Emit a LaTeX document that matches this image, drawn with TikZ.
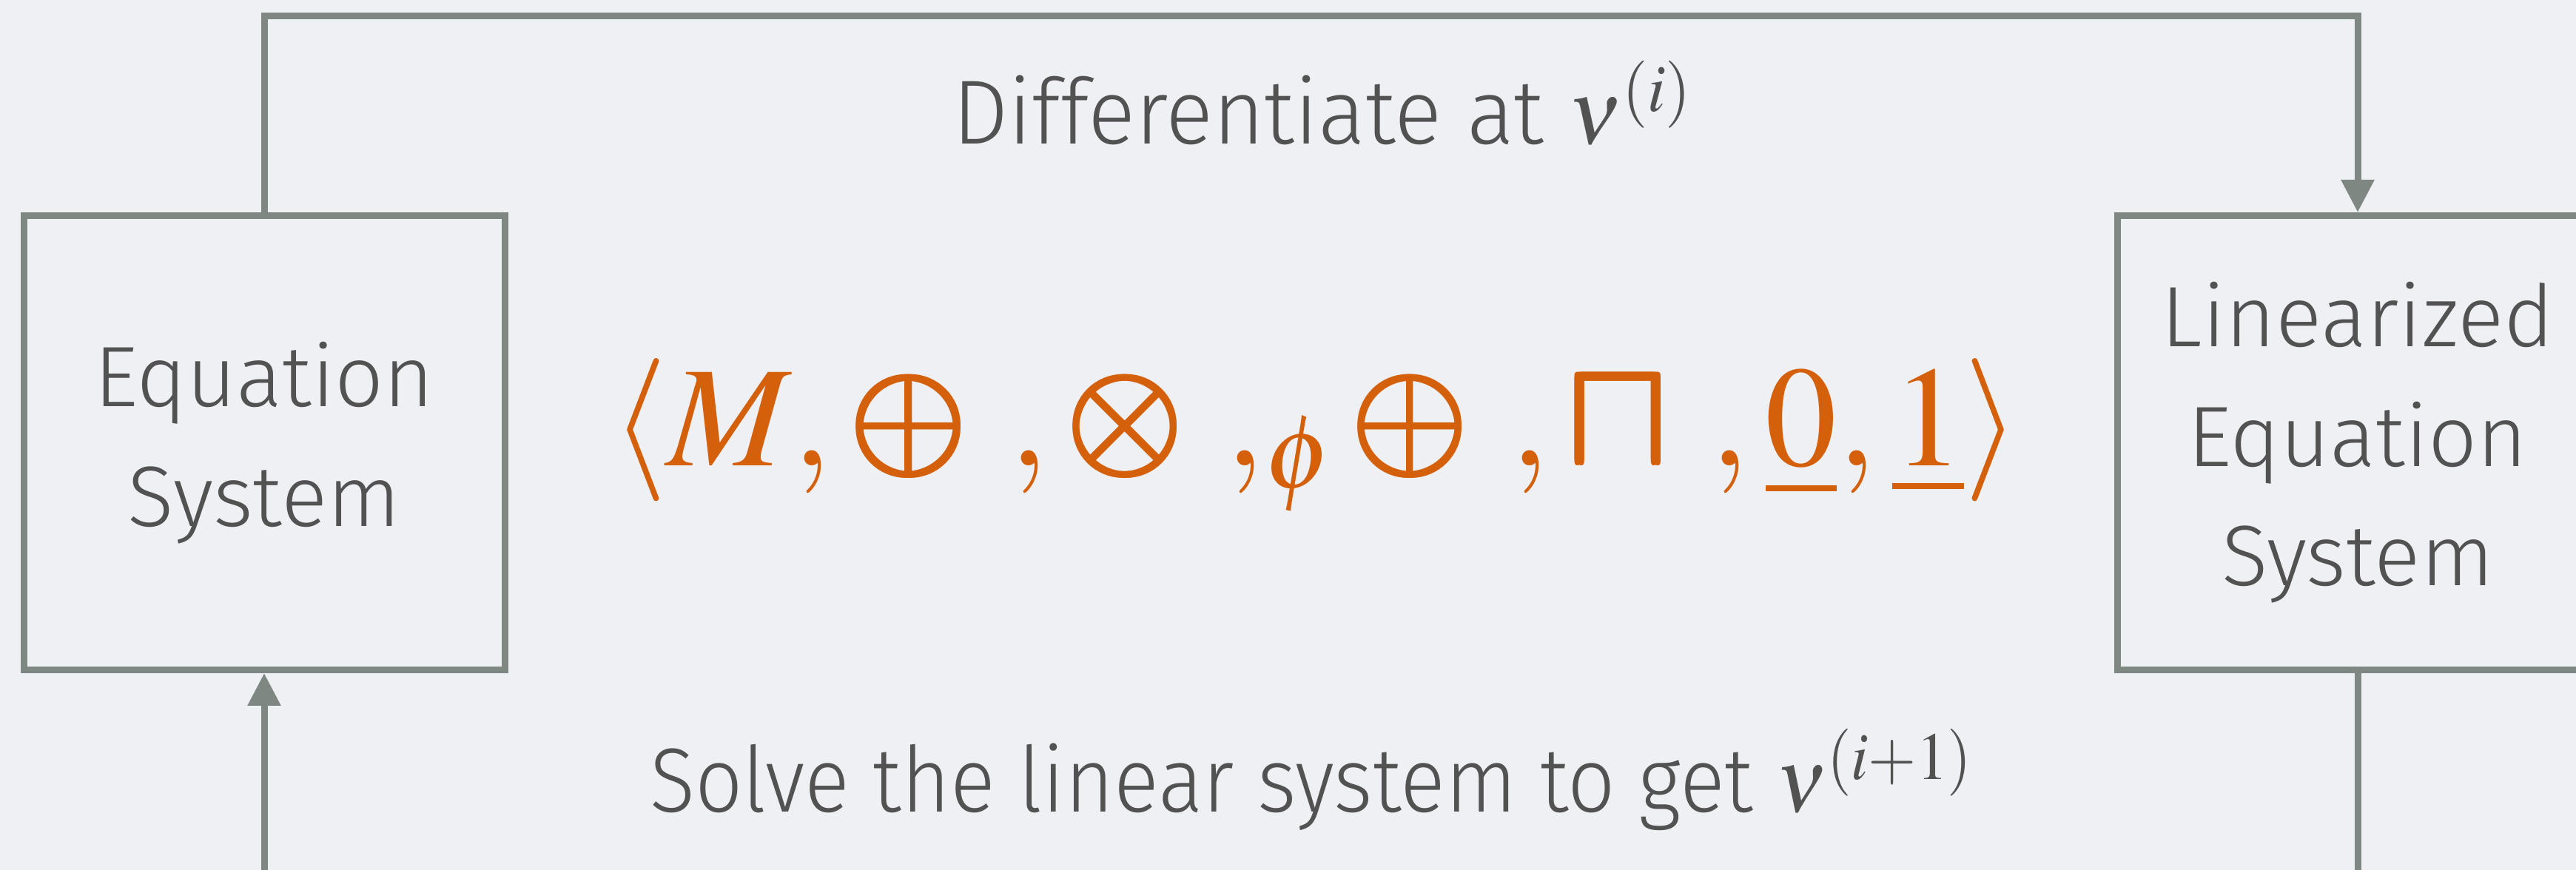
\documentclass[tikz,border=0pt]{standalone}
\usepackage{mathptmx}
\usepackage{fontspec}
\setmainfont{Fira Sans Light}
% heavier operator: four slightly shifted copies
\newcommand{\semop}[1]{\mbox{\scalebox{1.06}{\rlap{$#1$}\rlap{\kern1.2pt$#1$}\rlap{\raisebox{1.2pt}{$#1$}}\kern1.2pt\raisebox{1.2pt}{$#1$}}}}
\usetikzlibrary{arrows.meta,positioning,calc}
\definecolor{newtonBack}{RGB}{238, 240, 243}
\definecolor{newtonGray}{RGB}{127, 135, 131}
\definecolor{newtonText}{RGB}{82, 82, 82}
\definecolor{newtonOrange}{RGB}{213, 96, 12}

\begin{document}
\begin{tikzpicture}[
  system/.style={
    draw=newtonGray,
    line width=0.9mm,
    minimum width=6.5cm,
    minimum height=6.14cm,
    align=center,
    text=newtonText,
    font=\fontsize{33}{46}\selectfont
  },
  steplabel/.style={anchor=base,text=newtonText,font=\fontsize{35}{40}\selectfont},
  arrow/.style={-{Triangle[width=4.3mm,length=4.4mm]},line width=0.9mm,newtonGray}
]
  \fill[newtonBack] (0,0) rectangle (34.81,11.76);
  \clip (0,0) rectangle (34.81,11.76);
  \node[system] (eqsys) at (3.57,5.775) {Equation\\System};
  \node[system] (linsys) at (31.86,5.775) {Linearized\\Equation\\System};
  \node[anchor=base,text=newtonOrange,font=\fontsize{55}{60}\selectfont] (semiring) at (17.78,5.46)
    {$\langle M, \semop{\oplus}\ , \semop{\otimes}\ ,_{\phi}\semop{\oplus}\ , \semop{\sqcap}\ ,\underline{0}, \underline{1}\rangle$};
  \node[steplabel] (diff) at (17.87,9.81) {\scalebox{0.97}[1]{Differentiate at $\nu^{(i)}$}};
  \node[steplabel] (solve) at (17.72,0.78) {\scalebox{0.92}[1]{Solve the linear system to get $\nu^{(i+1)}$}};
  \coordinate (top) at (0,11.54);
  \coordinate (bottom) at (0,-1);
  \draw[arrow] (eqsys.north) |- (linsys.north |- top) -- (linsys.north);
  \draw[arrow] (linsys.south) |- (eqsys.south |- bottom) -- (eqsys.south);
\end{tikzpicture}
\end{document}
